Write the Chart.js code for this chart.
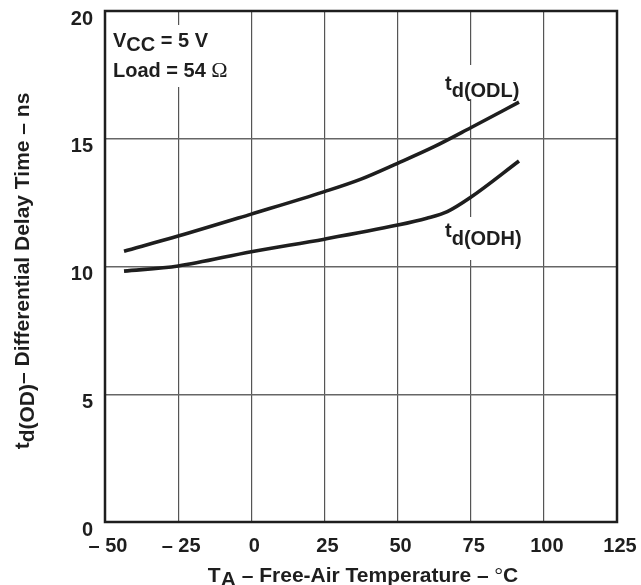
<!DOCTYPE html>
<html>
<head>
<meta charset="utf-8">
<script src="https://cdn.jsdelivr.net/npm/chart.js@4.4.0/dist/chart.umd.min.js"></script>
<style>
  html, body { margin: 0; padding: 0; background: #fff; }
  #wrap { width: 641px; height: 585px; position: relative; }
</style>
</head>
<body>
<div id="wrap"><canvas id="c"></canvas></div>
<script>
// ---- data ----
const tempODL = [-43.5, -25, 0, 25, 37.5, 50, 62.5, 75, 91.5];
const delayODL = [10.6, 11.19, 12.05, 12.93, 13.42, 14.04, 14.69, 15.43, 16.43];
const tempODH = [-43.5, -25, 0, 25, 50, 60, 67, 75, 91.5];
const delayODH = [9.82, 10.02, 10.58, 11.07, 11.62, 11.89, 12.15, 12.71, 14.13];
const xTickValues = [-50, -25, 0, 25, 50, 75, 100, 125];
const xTickLabels = ['\u2013 50', '\u2013 25', '0', '25', '50', '75', '100', '125'];
const yTickLabels = ['0', '5', '10', '15', '20'];

const FONT = '"Liberation Sans", Arial, Helvetica, sans-serif';
const SERIF = '"Liberation Serif", "Times New Roman", serif';
const INK = '#1e1e1e';

function toPoints(xs, ys) { return xs.map((x, i) => ({ x: x, y: ys[i] })); }

function drawRuns(ctx, runs, x, y) {
  ctx.textAlign = 'left';
  ctx.textBaseline = 'alphabetic';
  let cx = x;
  for (const r of runs) {
    ctx.font = r.font;
    ctx.fillText(r.text, cx, y + (r.dy || 0));
    cx += ctx.measureText(r.text).width;
  }
  return cx - x;
}
function runsWidth(ctx, runs) {
  let w = 0;
  for (const r of runs) { ctx.font = r.font; w += ctx.measureText(r.text).width; }
  return w;
}

const B21 = 'bold 21px ' + FONT;
const B20 = 'bold 20px ' + FONT;

const annot = {
  id: 'annot',
  beforeDatasetsDraw(chart) {
    const ctx = chart.ctx, a = chart.chartArea;
    ctx.save();
    ctx.fillStyle = '#fff';
    // white patches behind in-plot labels (gridlines are interrupted there)
    ctx.fillRect(a.left + 4, a.top + 14, 138, 62);
    ctx.fillRect(a.left + 336, a.top + 54, 88, 34);
    ctx.fillRect(a.left + 336, a.top + 206, 88, 43);
    ctx.restore();
  },
  afterDraw(chart) {
    const ctx = chart.ctx, a = chart.chartArea;
    ctx.save();
    // frame
    ctx.strokeStyle = INK;
    ctx.lineWidth = 2.5;
    ctx.strokeRect(a.left, a.top, a.right - a.left, a.bottom - a.top);

    ctx.fillStyle = INK;
    // Vcc / Load
    drawRuns(ctx, [
      { text: 'V', font: B20 },
      { text: 'CC', font: B20, dy: 4 },
      { text: ' = 5 V', font: B20 }
    ], a.left + 8, a.top + 36);
    drawRuns(ctx, [
      { text: 'Load = 54 ', font: B20 },
      { text: '\u03A9', font: '22px ' + SERIF }
    ], a.left + 8, a.top + 66);

    // curve labels
    drawRuns(ctx, [
      { text: 't', font: B20 },
      { text: 'd(ODL)', font: B20, dy: 7 }
    ], a.left + 340, a.top + 79);
    drawRuns(ctx, [
      { text: 't', font: B20 },
      { text: 'd(ODH)', font: B20, dy: 8 }
    ], a.left + 340, a.top + 226);

    // x title
    const xr = [
      { text: 'T', font: B21 },
      { text: 'A', font: B21, dy: 4 },
      { text: ' \u2013 Free-Air Temperature \u2013 ', font: B21 },
      { text: '\u00B0', font: '21px ' + SERIF },
      { text: 'C', font: B21 }
    ];
    const xw = runsWidth(ctx, xr);
    drawRuns(ctx, xr, (a.left + a.right) / 2 - xw / 2 + 2, 582);

    // y title (rotated)
    const yr = [
      { text: 't', font: B21 },
      { text: 'd(OD)', font: B21, dy: 5 },
      { text: '\u2013 Differential Delay Time \u2013 ns', font: B21 }
    ];
    const yw = runsWidth(ctx, yr);
    ctx.translate(29, 271);
    ctx.rotate(-Math.PI / 2);
    drawRuns(ctx, yr, -yw / 2, 0);
    ctx.restore();
  }
};

new Chart(document.getElementById('c'), {
  type: 'scatter',
  data: {
    datasets: [
      { label: 'td(ODL)', data: toPoints(tempODL, delayODL) },
      { label: 'td(ODH)', data: toPoints(tempODH, delayODH) }
    ]
  },
  options: {
    responsive: true,
    maintainAspectRatio: false,
    animation: false,
    showLine: true,
    devicePixelRatio: 1,
    layout: { padding: { left: 0, right: 24, top: 11, bottom: 0 } },
    elements: {
      point: { radius: 0, hoverRadius: 0 },
      line: { borderColor: INK, borderWidth: 3.6, cubicInterpolationMode: 'monotone', fill: false, borderCapStyle: 'butt' }
    },
    plugins: { legend: { display: false }, tooltip: { enabled: false }, title: { display: false } },
    scales: {
      x: {
        type: 'linear', min: -50, max: 125,
        afterBuildTicks: s => { s.ticks = xTickValues.map(v => ({ value: v })); },
        afterFit: s => { s.height = 63; s.paddingLeft = 0; s.paddingRight = 0; },
        ticks: {
          callback: (v, i) => xTickLabels[i],
          color: INK, font: { family: FONT, size: 20, weight: 'bold' },
          padding: 12, labelOffset: 3, maxRotation: 0, autoSkip: false
        },
        grid: { color: '#555', lineWidth: 1.2, drawTicks: false },
        border: { display: false }
      },
      y: {
        type: 'linear', min: 0, max: 20,
        ticks: {
          stepSize: 5,
          callback: (v, i) => yTickLabels[i],
          color: INK, font: { family: FONT, size: 20, weight: 'bold' },
          padding: 12, labelOffset: 8
        },
        afterFit: s => { s.width = 105; s.paddingTop = 0; s.paddingBottom = 0; },
        grid: { color: '#666', lineWidth: 1.4, drawTicks: false },
        border: { display: false }
      }
    }
  },
  plugins: [annot]
});
</script>
</body>
</html>
